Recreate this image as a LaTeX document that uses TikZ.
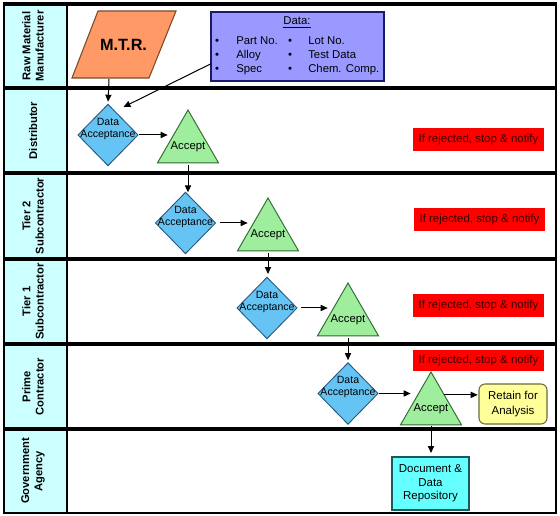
\documentclass[tikz,border=0pt]{standalone}
\usepackage{fontspec}
\setmainfont{Liberation Sans}
\usetikzlibrary{shapes.geometric,arrows.meta,calc}
\definecolor{hdrfill}{HTML}{CCFFFF}
\definecolor{mtrfill}{HTML}{FF9966}
\definecolor{mtrline}{HTML}{7A4A2A}
\definecolor{datafill}{HTML}{9999FF}
\definecolor{dataline}{HTML}{1A1A66}
\definecolor{diafill}{HTML}{66C4F4}
\definecolor{dialine}{HTML}{2A5A80}
\definecolor{trifill}{HTML}{9EEE9E}
\definecolor{triline}{HTML}{2F6A2F}
\definecolor{redfill}{HTML}{FF0000}
\definecolor{redtext}{HTML}{3A0000}
\definecolor{retfill}{HTML}{FFFF99}
\definecolor{retline}{HTML}{6A6A3A}
\definecolor{docfill}{HTML}{66FFFF}
\definecolor{docline}{HTML}{1A5A5A}
\tikzset{
  lanehead/.style={rotate=90,align=center,font=\bfseries\fontsize{8.4}{9.8}\selectfont,inner sep=0pt},
  lanesep/.style={line width=2.4pt},
  databox/.style={draw=dataline,fill=datafill,line width=0.8pt,minimum width=129.75pt,minimum height=51.75pt,inner sep=0pt,outer sep=0pt},
  datatxt/.style={font=\fontsize{8.5}{10}\selectfont,inner sep=0pt},
  diashape/.style={diamond,draw=dialine,fill=diafill,line width=0.7pt,inner sep=0pt,outer sep=0pt,minimum width=45pt,minimum height=46pt},
  diatxt/.style={align=center,font=\fontsize{7.9}{9}\selectfont,inner sep=0pt},
  trishape/.style={regular polygon,regular polygon sides=3,draw=triline,fill=trifill,line width=0.7pt,inner sep=0pt,outer sep=0pt,minimum size=52.8pt},
  tritxt/.style={font=\fontsize{8.5}{10}\selectfont,inner sep=0pt},
  rejbox/.style={fill=redfill,text=redtext,font=\fontsize{8.6}{10}\selectfont,minimum width=98.25pt,minimum height=17.25pt,inner sep=0pt},
  retbox/.style={draw=retline,fill=retfill,rounded corners=4.5pt,line width=0.8pt,align=center,font=\fontsize{8.6}{11.2}\selectfont,minimum width=51pt,minimum height=30pt,inner sep=0pt,outer sep=0pt},
  docbox/.style={draw=docline,fill=docfill,line width=0.8pt,align=center,font=\fontsize{8.6}{10.2}\selectfont,minimum width=57.75pt,minimum height=39.75pt,inner sep=0pt,outer sep=0pt},
  arr/.style={line width=0.75pt,-{Triangle[length=5.2pt,width=4.6pt]}},
}
\begin{document}
\begin{tikzpicture}[x=0.75pt,y=-0.75pt]
\useasboundingbox (0,0) rectangle (560,516);
% header column
\fill[hdrfill] (3,4) rectangle (67,513);
% lane headers
\node[lanehead] (h1) at (33,46) {Raw Material\\Manufacturer};
\node[lanehead] (h2) at (33,130.5) {Distributor};
\node[lanehead] (h3) at (33,216) {Tier 2\\Subcontractor};
\node[lanehead] (h4) at (33,301.5) {Tier 1\\Subcontractor};
\node[lanehead] (h5) at (33,386.5) {Prime\\Contractor};
\node[lanehead] (h6) at (33,471) {Government\\Agency};
% grid lines
\draw[line width=1.5pt] (67,4) -- (67,513);
\foreach \y in {88,173,259,344,429} \draw[lanesep] (3,\y) -- (556.5,\y);
\draw[line width=1.5pt] (3.5,4) -- (3.5,513) -- (556,513) -- (556,4);
\draw[lanesep] (3,4) -- (556.5,4);
% M.T.R. parallelogram
\filldraw[fill=mtrfill,draw=mtrline,line width=0.8pt] (98,11) -- (176,11) -- (149,78) -- (72,78) -- cycle;
\node[font=\bfseries\fontsize{12.2}{14}\selectfont,inner sep=0pt] (mtr) at (123.5,45) {M.T.R.};
\coordinate (mtrb) at (109,79);
% data box
\node[databox] (db) at (297.5,46.5) {};
\node[datatxt,anchor=base] (dh) at (297,25) {\underline{Data:}};
\foreach \n/\bx/\tx/\y/\t in {1/217/236/45/Part No.,2/217/236/59/Alloy,3/217/236/73/Spec,4/290/308/45/Lot No.,5/290/308/59/Test Data,6/290/308/73/Chem. Comp.}{
  \node[datatxt,anchor=base] (bul\n) at (\bx,\y) {\textbullet};
  \node[datatxt,anchor=base west] (itm\n) at (\tx,\y) {\t};
}
% diamonds
\node[diashape] (d1) at (108,135) {};
\node[diashape] (d2) at (185.5,223) {};
\node[diashape] (d3) at (267,308) {};
\node[diashape] (d4) at (348,393.5) {};
\foreach \d in {d1,d2,d3,d4}
  \node[diatxt] (\d txt) at ($(\d)+(0,-6.5)$) {Data\\Acceptance};
% triangles
\node[trishape] (t1) at (188,145.2) {};
\node[trishape] (t2) at (268,233.2) {};
\node[trishape] (t3) at (348,318.2) {};
\node[trishape] (t4) at (431,407.2) {};
\foreach \t in {t1,t2,t3,t4}
  \node[tritxt] (\t txt) at ($(\t)+(0,2)$) {Accept};
% rejection boxes
\node[rejbox] (r1) at (478.5,140) {If rejected, stop \& notify};
\node[rejbox] (r2) at (479.5,220) {If rejected, stop \& notify};
\node[rejbox] (r3) at (478.5,305.5) {If rejected, stop \& notify};
\node[rejbox,minimum height=15.75pt] (r4) at (478.5,360.5) {If rejected, stop \& notify};
% retain and document boxes
\node[retbox] (ret) at (513,404) {Retain for\\Analysis};
\node[docbox] (doc) at (430.5,483.5) {Document \&\\Data\\Repository};
% connectors
\coordinate (dbout) at ($(db.south west)!0.25!(db.north west)$);
\coordinate (a1) at (123.5,107);
\draw[arr,shorten >=2pt] (mtrb) -- (d1.north);
\draw[arr] (dbout) -- (a1);
\draw[arr,shorten <=1pt] (d1.east) -- (d1.east -| t1.west);
\draw[arr,shorten <=3pt] (d2.east) -- (d2.east -| t2.west);
\draw[arr,shorten <=3pt] (d3.east) -- (d3.east -| t3.west);
\draw[arr,shorten <=1pt] (d4.east) -- (d4.east -| t4.west);
\draw[arr,shorten <=2pt] (t1.south) -- (t1.south |- d2.north);
\draw[arr,shorten <=2pt,shorten >=2.5pt] (t2.south) -- (t2.south |- d3.north);
\draw[arr,shorten <=2pt,shorten >=2pt] (t3.south) -- (t3.south |- d4.north);
\draw[arr,shorten <=1pt,shorten >=3pt] (t4.south) -- (t4.south |- doc.north);
\draw[arr,shorten >=1pt] (t4.43) -- (t4.43 -| ret.west);
\end{tikzpicture}
\end{document}
